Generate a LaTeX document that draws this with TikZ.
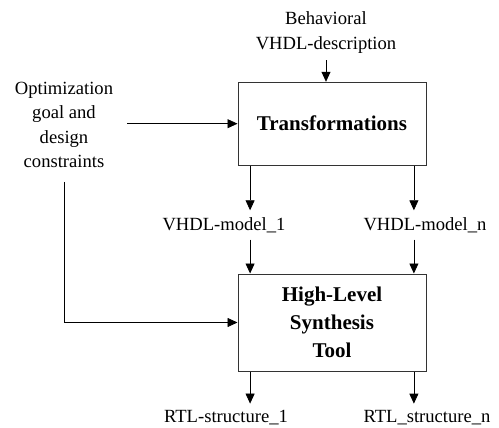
\documentclass[tikz,border=0pt]{standalone}
\usepackage{fontspec}
\setmainfont{Liberation Serif}
\usetikzlibrary{arrows.meta}

\begin{document}
\begin{tikzpicture}[x = 0.5pt, y = -0.5pt, >={Triangle[length=5pt,width=4.5pt]},
  lbl/.style = {align=center, font=\fontsize{9.3pt}{12.2pt}\selectfont},
  blk/.style = {draw=black!80, line width=0.5pt, align=center, minimum width=94pt,
    font=\fontsize{10.5pt}{14pt}\selectfont\bfseries}]
\useasboundingbox (0,0) rectangle (499,428);

% Create blocks
\node[blk, minimum height = 41.4pt] at (332,123.7) (trans) {Transformations};
\node[blk, minimum height = 48.5pt] at (332,322.5) (hls) {High-Level\\ Synthesis\\ Tool};

% Label inputs
\node[lbl] at (326,32.5) (behav) {Behavioral\\ VHDL-description};
\node[lbl] at (64,125) (opt) {Optimization\\ goal and\\ design\\ constraints};

% Label models and structures
\node[lbl] at (224,225) (m1) {VHDL-model\_1};
\node[lbl] at (425,225) (mn) {VHDL-model\_n};
\node[lbl] at (226,418) (r1) {RTL-structure\_1};
\node[lbl] at (427,418) (rn) {RTL\_structure\_n};

% Create input arrows
\draw[->] (behav.south) -- (behav.south |- trans.north);
\draw[->] ([xshift = 3.5pt]opt.east |- trans.west) -- (trans.west);
\draw[->] ([yshift = -3.5pt]opt.south) |- (hls.west);

% Create arrows from Transformations to models
\draw[->] ([xshift = 6.3pt]trans.south west) -- ([xshift = 6.3pt]trans.south west |- m1.north);
\draw[->] ([xshift = -6.3pt]trans.south east) -- ([xshift = -6.3pt]trans.south east |- mn.north);

% Create arrows from models to Synthesis Tool
\draw[->] ([xshift = 6.3pt]hls.north west |- m1.south) -- ([xshift = 6.3pt]hls.north west);
\draw[->] ([xshift = -6.3pt]hls.north east |- mn.south) -- ([xshift = -6.3pt]hls.north east);

% Create output arrows
\draw[->] ([xshift = 6.3pt]hls.south west) -- ([xshift = 6.3pt]hls.south west |- r1.north);
\draw[->] ([xshift = -6.3pt]hls.south east) -- ([xshift = -6.3pt]hls.south east |- rn.north);

\end{tikzpicture}
\end{document}
